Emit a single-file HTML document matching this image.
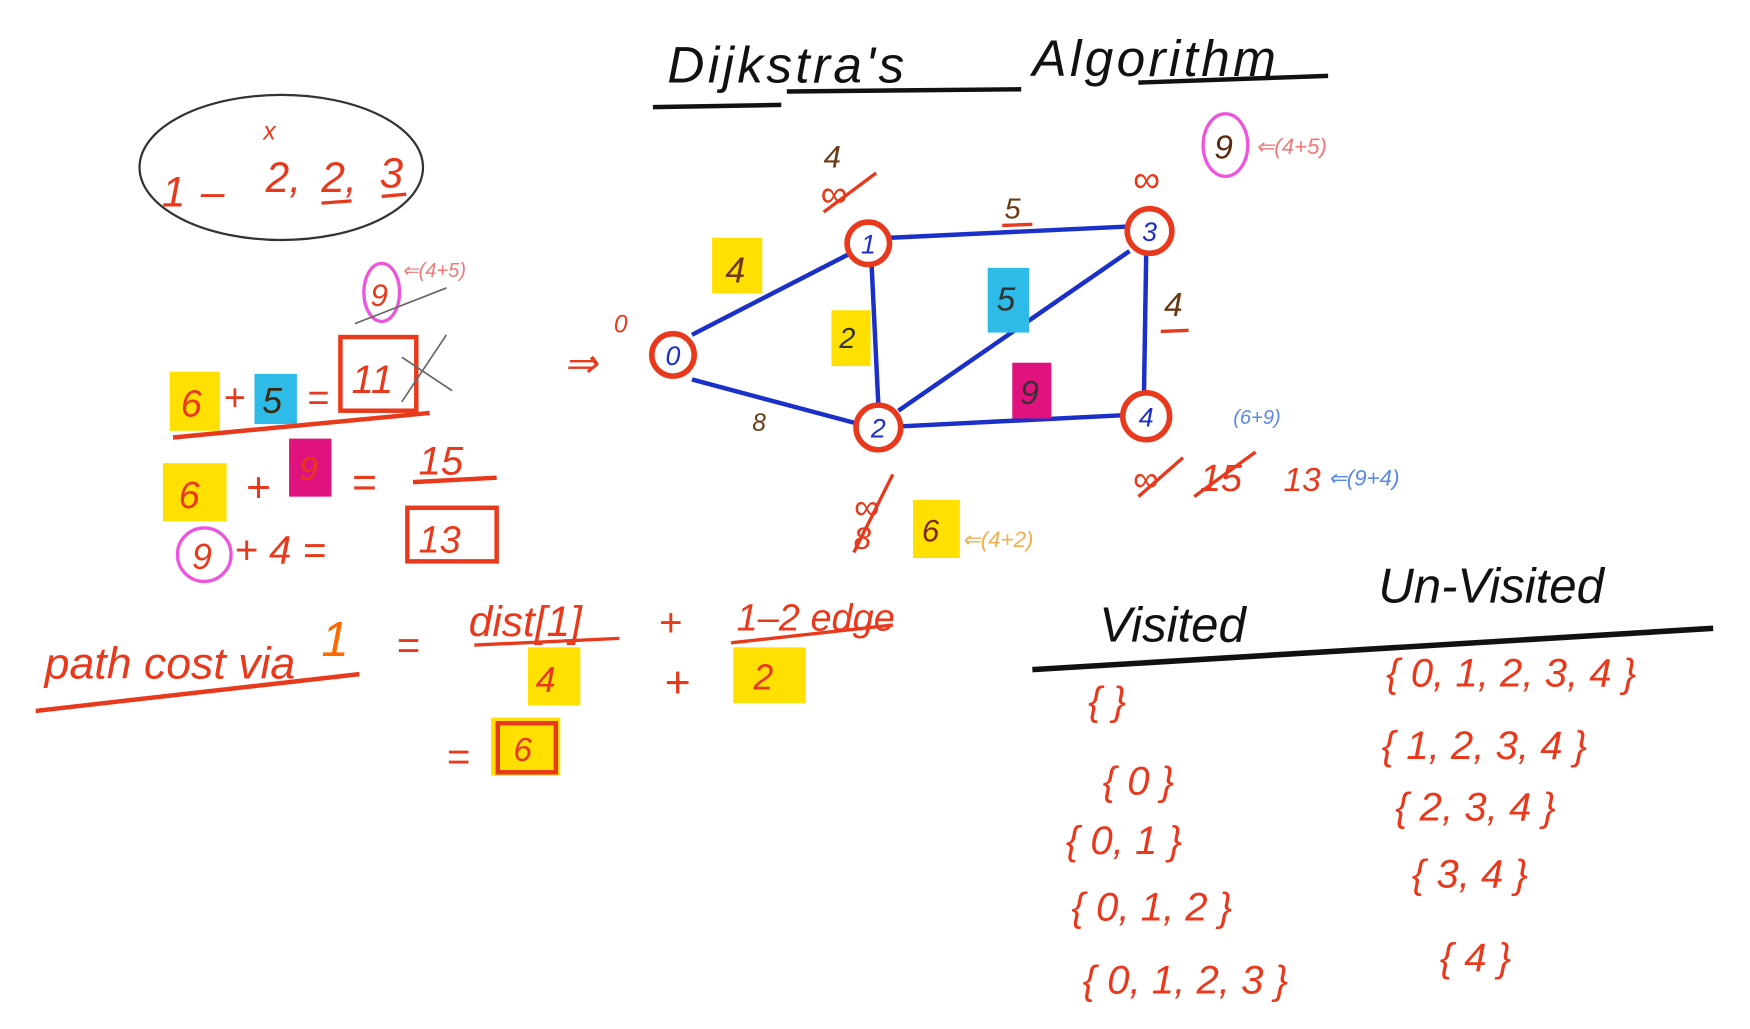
<!DOCTYPE html>
<html><head><meta charset="utf-8"><style>
html,body{margin:0;padding:0;background:#fff;width:1750px;height:1029px;overflow:hidden}
svg{display:block}
text{font-family:"Liberation Sans",sans-serif;font-style:italic}
.r{fill:#e8391d}.b{fill:#1b2fc9}.k{fill:#111}
</style></head><body>
<svg width="1750" height="1029" viewBox="0 0 1568 922" xmlns="http://www.w3.org/2000/svg">
<rect width="1568" height="922" fill="#fff"/>
<!-- title -->
<text x="598" y="74" font-size="46" class="k" letter-spacing="3">Dijkstra's</text>
<text x="925" y="68" font-size="46" class="k" letter-spacing="3">Algorithm</text>
<g stroke="#111" stroke-width="4" fill="none">
<line x1="585" y1="96" x2="700" y2="94"/><line x1="705" y1="82" x2="915" y2="80"/><line x1="1020" y1="74" x2="1190" y2="68"/>
</g>
<!-- ellipse -->
<ellipse cx="252" cy="150" rx="127" ry="65" fill="none" stroke="#333" stroke-width="2"/>
<g font-size="38" class="r">
<text x="145" y="185">1</text><text x="180" y="185">–</text><text x="238" y="172">2,</text><text x="288" y="172">2,</text><text x="340" y="168">3</text>
</g>
<text x="236" y="125" font-size="22" class="r">x</text>
<g stroke="#e8391d" stroke-width="3"><line x1="288" y1="182" x2="315" y2="180"/><line x1="342" y1="176" x2="364" y2="174"/></g>
<!-- graph edges -->
<g stroke="#1b2fc9" stroke-width="4" fill="none">
<line x1="620" y1="300" x2="760" y2="228"/><line x1="620" y1="340" x2="770" y2="380"/>
<line x1="798" y1="213" x2="1010" y2="203"/><line x1="781" y1="238" x2="787" y2="363"/>
<line x1="805" y1="368" x2="1012" y2="225"/><line x1="808" y1="382" x2="1007" y2="372"/>
<line x1="1027" y1="228" x2="1025" y2="353"/>
</g>
<g stroke="#e8391d" stroke-width="5" fill="#fff">
<circle cx="603" cy="318" r="19"/><circle cx="778" cy="218" r="19"/><circle cx="787" cy="383" r="20"/>
<circle cx="1030" cy="207" r="20"/><circle cx="1027" cy="373" r="21"/>
</g>
<g font-size="24" class="b" text-anchor="middle">
<text x="603" y="327">0</text><text x="778" y="227">1</text><text x="787" y="392">2</text><text x="1030" y="216">3</text><text x="1027" y="382">4</text>
</g>
<text x="550" y="298" font-size="22" class="r">0</text>
<text x="505" y="338" font-size="36" class="r">⇒</text>
<!-- edge labels -->
<rect x="638" y="213" width="45" height="50" fill="#ffe000"/><text x="650" y="253" font-size="32" fill="#6b3a16">4</text>
<rect x="745" y="278" width="35" height="50" fill="#ffe000"/><text x="752" y="312" font-size="26" fill="#333">2</text>
<rect x="885" y="240" width="37" height="58" fill="#2ebbe8"/><text x="893" y="278" font-size="30" fill="#333">5</text>
<rect x="907" y="325" width="35" height="50" fill="#e0127e"/><text x="914" y="362" font-size="30" fill="#333">9</text>
<text x="900" y="196" font-size="26" fill="#6b3a16">5</text><line x1="898" y1="202" x2="925" y2="201" stroke="#e8391d" stroke-width="3"/>
<text x="1043" y="283" font-size="30" fill="#6b3a16">4</text><line x1="1040" y1="297" x2="1065" y2="296" stroke="#e8391d" stroke-width="3"/>
<text x="674" y="386" font-size="22" fill="#6b3a16">8</text>
<!-- node distances -->
<text x="738" y="150" font-size="28" fill="#6b3a16">4</text>
<text x="735" y="185" font-size="34" class="r">∞</text><line x1="738" y1="190" x2="785" y2="155" stroke="#e8391d" stroke-width="3"/>
<text x="1015" y="172" font-size="34" class="r">∞</text>
<ellipse cx="1098" cy="130" rx="20" ry="28" fill="none" stroke="#ee55dd" stroke-width="3"/>
<text x="1088" y="142" font-size="30" fill="#5a2a10">9</text>
<text x="1125" y="138" font-size="20" fill="#f07a7a">⇐(4+5)</text>
<text x="765" y="465" font-size="32" class="r">∞</text><text x="765" y="492" font-size="28" class="r">8</text>
<line x1="765" y1="495" x2="800" y2="425" stroke="#e8391d" stroke-width="3"/>
<rect x="818" y="448" width="42" height="52" fill="#ffe000"/><text x="826" y="485" font-size="28" fill="#7a2a10">6</text>
<text x="862" y="490" font-size="20" fill="#f0b050">⇐(4+2)</text>
<text x="1015" y="440" font-size="32" class="r">∞</text><text x="1075" y="440" font-size="34" class="r">15</text>
<line x1="1020" y1="445" x2="1060" y2="410" stroke="#e8391d" stroke-width="3"/><line x1="1070" y1="445" x2="1125" y2="405" stroke="#e8391d" stroke-width="3"/>
<text x="1150" y="440" font-size="30" class="r">13</text>
<text x="1190" y="435" font-size="20" fill="#5a8ae8">⇐(9+4)</text>
<text x="1105" y="380" font-size="18" fill="#5a8ae8">(6+9)</text>
<!-- left calculations -->
<ellipse cx="342" cy="262" rx="16" ry="26" fill="none" stroke="#ee55dd" stroke-width="3"/>
<text x="332" y="274" font-size="28" class="r">9</text><text x="360" y="248" font-size="18" fill="#f07a7a">⇐(4+5)</text>
<line x1="318" y1="290" x2="400" y2="258" stroke="#666" stroke-width="1.5"/>
<rect x="152" y="333" width="45" height="53" fill="#ffe000"/><text x="162" y="373" font-size="34" class="r">6</text>
<text x="200" y="368" font-size="34" class="r">+</text>
<rect x="228" y="335" width="38" height="45" fill="#2ebbe8"/><text x="235" y="370" font-size="32" fill="#3a2a10">5</text>
<text x="275" y="368" font-size="34" class="r">=</text>
<rect x="305" y="302" width="68" height="66" fill="none" stroke="#e8391d" stroke-width="4"/>
<text x="315" y="352" font-size="36" class="r">11</text>
<line x1="360" y1="360" x2="400" y2="300" stroke="#666" stroke-width="1.5"/><line x1="360" y1="320" x2="405" y2="350" stroke="#666" stroke-width="1.5"/>
<line x1="155" y1="392" x2="385" y2="370" stroke="#e8391d" stroke-width="4"/>
<rect x="146" y="415" width="57" height="52" fill="#ffe000"/><text x="160" y="455" font-size="34" class="r">6</text>
<text x="220" y="450" font-size="38" class="r">+</text>
<rect x="259" y="393" width="38" height="52" fill="#e0127e"/><text x="268" y="430" font-size="30" class="r">9</text>
<text x="315" y="445" font-size="38" class="r">=</text><text x="375" y="425" font-size="36" class="r">15</text>
<line x1="370" y1="432" x2="445" y2="428" stroke="#e8391d" stroke-width="4"/>
<circle cx="183" cy="497" r="24" fill="none" stroke="#ee55dd" stroke-width="3"/>
<text x="172" y="510" font-size="32" class="r">9</text>
<text x="210" y="505" font-size="36" class="r">+ 4  =</text>
<rect x="365" y="455" width="80" height="48" fill="none" stroke="#e8391d" stroke-width="4"/>
<text x="375" y="495" font-size="34" class="r">13</text>
<!-- path cost -->
<text x="40" y="608" font-size="40" class="r">path cost via</text><text x="288" y="588" font-size="44" fill="#ff6a00">1</text>
<line x1="32" y1="637" x2="322" y2="604" stroke="#e8391d" stroke-width="4"/>
<text x="355" y="590" font-size="36" class="r">=</text>
<text x="420" y="570" font-size="38" class="r">dist[1]</text><line x1="425" y1="578" x2="555" y2="572" stroke="#e8391d" stroke-width="3"/>
<text x="590" y="570" font-size="36" class="r">+</text>
<text x="660" y="565" font-size="34" class="r">1–2 edge</text><line x1="655" y1="576" x2="800" y2="560" stroke="#e8391d" stroke-width="3"/>
<rect x="473" y="580" width="47" height="52" fill="#ffe000"/><text x="480" y="620" font-size="32" class="r">4</text>
<text x="595" y="625" font-size="40" class="r">+</text>
<rect x="657" y="580" width="65" height="50" fill="#ffe000"/><text x="675" y="618" font-size="32" class="r">2</text>
<text x="400" y="690" font-size="36" class="r">=</text>
<rect x="440" y="643" width="62" height="52" fill="#ffe000"/>
<rect x="446" y="648" width="52" height="44" fill="none" stroke="#e8391d" stroke-width="4"/>
<text x="460" y="682" font-size="30" class="r">6</text>
<!-- visited table -->
<text x="985" y="575" font-size="44" class="k">Visited</text>
<text x="1235" y="540" font-size="44" class="k">Un-Visited</text>
<line x1="925" y1="600" x2="1535" y2="563" stroke="#111" stroke-width="5"/>
<g font-size="36" class="r">
<text x="975" y="640">{    }</text>
<text x="988" y="712">{ 0 }</text>
<text x="955" y="765">{ 0, 1 }</text>
<text x="960" y="825">{ 0, 1, 2 }</text>
<text x="970" y="890">{ 0, 1, 2, 3 }</text>
<text x="1242" y="615">{ 0, 1, 2, 3, 4 }</text>
<text x="1238" y="680">{ 1, 2, 3, 4 }</text>
<text x="1250" y="735">{ 2, 3, 4 }</text>
<text x="1265" y="795">{ 3, 4 }</text>
<text x="1290" y="870">{ 4 }</text>
</g>
</svg>
</body></html>
